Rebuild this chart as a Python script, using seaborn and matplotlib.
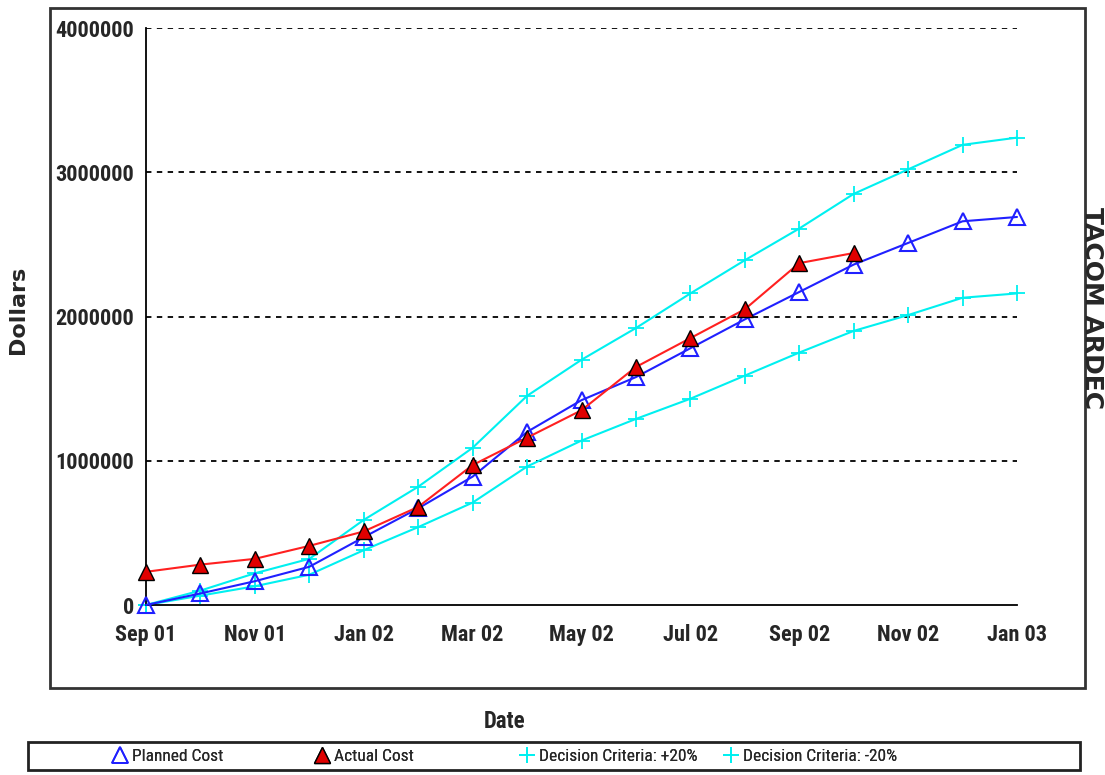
import matplotlib
matplotlib.use("Agg")
import matplotlib.pyplot as plt
from matplotlib.lines import Line2D
from matplotlib.patches import Rectangle
import seaborn as sns
import pandas as pd

months = ["Sep 01", "Oct 01", "Nov 01", "Dec 01", "Jan 02", "Feb 02", "Mar 02", "Apr 02",
          "May 02", "Jun 02", "Jul 02", "Aug 02", "Sep 02", "Oct 02", "Nov 02", "Dec 02", "Jan 03"]
planned = [0, 80000, 165000, 265000, 470000, 670000, 890000, 1200000, 1420000, 1580000,
           1780000, 1980000, 2170000, 2360000, 2510000, 2660000, 2690000]
actual = [230000, 280000, 320000, 410000, 510000, 680000, 970000, 1160000, 1350000, 1650000,
          1850000, 2050000, 2370000, 2440000]
plus20 = [0, 100000, 220000, 320000, 590000, 820000, 1090000, 1450000, 1700000, 1920000,
          2160000, 2390000, 2610000, 2850000, 3020000, 3190000, 3240000]
minus20 = [0, 65000, 130000, 210000, 380000, 540000, 710000, 960000, 1140000, 1290000,
           1430000, 1590000, 1750000, 1900000, 2010000, 2130000, 2160000]
y_ticks = [0, 1000000, 2000000, 3000000, 4000000]
series_names = ["Planned Cost", "Actual Cost", "Decision Criteria: +20%", "Decision Criteria: -20%"]

sns.set_style("white")
narrow = ["Roboto Condensed", "Arial Narrow", "Liberation Sans Narrow", "Liberation Sans", "DejaVu Sans"]
plt.rcParams["font.family"] = narrow

fig = plt.figure(figsize=(11.05, 7.75), dpi=100)
ax = fig.add_axes([146 / 1105, 1 - 605 / 775, (1017 - 146) / 1105, (605 - 28) / 775])

xs = list(range(len(months)))
df_p = pd.DataFrame({"x": xs, "y": planned})
df_a = pd.DataFrame({"x": xs[:len(actual)], "y": actual})
df_u = pd.DataFrame({"x": xs, "y": plus20})
df_l = pd.DataFrame({"x": xs, "y": minus20})

cyan = "#00F0F0"
blue = "#2020FF"
sns.lineplot(data=df_u, x="x", y="y", ax=ax, color=cyan, lw=1.5, marker="+", markersize=12,
             markeredgewidth=1.3, markeredgecolor=cyan, zorder=2, clip_on=False)
sns.lineplot(data=df_l, x="x", y="y", ax=ax, color=cyan, lw=1.5, marker="+", markersize=12,
             markeredgewidth=1.3, markeredgecolor=cyan, zorder=2, clip_on=False)
sns.lineplot(data=df_p, x="x", y="y", ax=ax, color=blue, lw=1.5, marker="^", markersize=12,
             markerfacecolor="none", markeredgecolor=blue, markeredgewidth=1.5, zorder=3, clip_on=False)
sns.lineplot(data=df_a, x="x", y="y", ax=ax, color="#FF2020", lw=1.5, marker="^", markersize=12,
             markerfacecolor="#E00000", markeredgecolor="black", markeredgewidth=1.0, zorder=4,
             clip_on=False)

ax.set_xlim(0, len(months) - 1)
ax.set_ylim(0, 4000000)
ax.set_yticks(y_ticks)
ax.set_yticklabels([str(v) for v in y_ticks], fontsize=16, fontweight="bold")
ax.set_xticks(xs[::2])
ax.set_xticklabels(months[::2], fontsize=16, fontweight="bold")
ax.set_xticks(xs[1::2], minor=True)
ax.tick_params(axis="x", which="major", direction="inout", length=24, width=1.2, color="black", pad=2)
ax.tick_params(axis="x", which="minor", direction="inout", length=12, width=1.2, color="black")
ax.tick_params(axis="y", which="major", direction="out", length=8, width=1.2, color="black", pad=0.5)
ax.set_xlabel("")
ax.set_ylabel("")
for v in y_ticks[1:]:
    ax.axhline(v, color="black", lw=1.3, ls=(0, (3, 3)), zorder=1)
for s in ["top", "right"]:
    ax.spines[s].set_visible(False)
for s in ["left", "bottom"]:
    ax.spines[s].set_color("black")
    ax.spines[s].set_linewidth(1.3)
ax.patch.set_alpha(0)

# outer frame
fig.patches.append(Rectangle((50 / 1105, 1 - 688 / 775), (1085 - 50) / 1105, (688 - 8) / 775,
                             transform=fig.transFigure, fill=False, edgecolor="#333333", lw=2))
# legend frame
fig.patches.append(Rectangle((28 / 1105, 1 - 770 / 775), (1080 - 28) / 1105, (770 - 742) / 775,
                             transform=fig.transFigure, fill=False, edgecolor="#222222", lw=2))

fig.text(18 / 1105, 1 - 310 / 775, "Dollars", rotation=90, ha="center", va="center",
         fontsize=16, fontweight="bold", family=["DejaVu Sans"])
fig.text(1092 / 1105, 1 - 308 / 775, "TACOM ARDEC", rotation=-90, ha="center", va="center",
         fontsize=18, fontweight="bold", family=["DejaVu Sans"])
fig.text(505 / 1105, 1 - 721 / 775, "Date", ha="center", va="center", fontsize=16.5, fontweight="bold")

handles = [
    Line2D([], [], ls="none", marker="^", markersize=11, markerfacecolor="none",
           markeredgecolor=blue, markeredgewidth=1.3),
    Line2D([], [], ls="none", marker="^", markersize=11, markerfacecolor="#E00000",
           markeredgecolor="black", markeredgewidth=1.0),
    Line2D([], [], ls="none", marker="+", markersize=12, markeredgecolor=cyan, markeredgewidth=1.3),
    Line2D([], [], ls="none", marker="+", markersize=12, markeredgecolor=cyan, markeredgewidth=1.3),
]
legend_x = [113, 315, 520, 724]
for h, name, lx in zip(handles, series_names, legend_x):
    leg = fig.legend([h], [name], loc="center left", bbox_to_anchor=(lx / 1105, 1 - 756 / 775),
                     frameon=False, fontsize=12.5, handlelength=0.8, handletextpad=0.3,
                     borderpad=0, borderaxespad=0)
    fig.add_artist(leg)

fig.savefig("out.png", dpi=100)
